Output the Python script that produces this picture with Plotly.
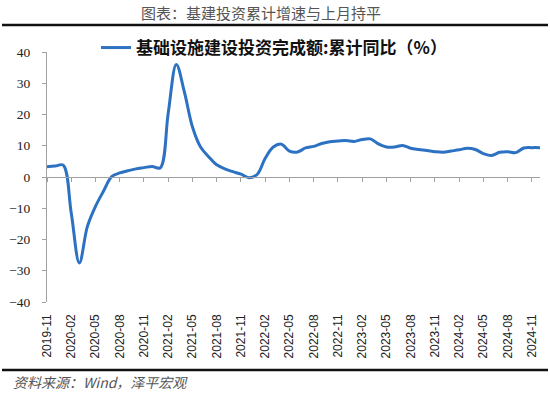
import plotly.graph_objects as go

# ---------------- data ----------------
months = ["2019-11", "2019-12"] + [f"{y}-{m:02d}" for y in range(2020, 2025) for m in range(1, 13)]
values = [
    3.3, 3.5,                                                         # 2019-11, 2019-12
    3.8, -11.5, -27.5, -15.8, -9.4, -4.5, 0.1, 1.3, 2.0, 2.6, 3.0, 3.4,   # 2020
    2.9, 20.5, 36.0, 27.2, 16.0, 9.6, 6.5, 3.9, 2.6, 1.7, 0.9, -0.2,     # 2021
    0.8, 6.0, 9.6, 10.5, 8.3, 8.0, 9.3, 9.8, 10.7, 11.3, 11.5, 11.7,     # 2022
    11.4, 12.0, 12.2, 10.6, 9.6, 9.6, 10.1, 9.2, 8.8, 8.5, 8.1, 7.9,     # 2023
    8.3, 8.7, 9.2, 8.8, 7.5, 6.9, 7.9, 8.1, 7.8, 9.3, 9.4, 9.4,          # 2024
]
tick_labels = months[::3]
series_name = "基础设施建设投资完成额:累计同比（%）"
title_text = "图表：基建投资累计增速与上月持平"
source_text = "资料来源：Wind，泽平宏观"
y_ticks = list(range(-40, 41, 10))

# ---------------- layout geometry ----------------
W, H = 550, 394
ML, MR, MT, MB = 47, 10, 52, 92


def px_x(X):
    return (X - ML) / (W - ML - MR)


def px_y(Y):
    return (H - MB - Y) / (H - MT - MB)


CJK = "Noto Sans CJK SC"
AXIS_GREY = "#A0A0A0"

fig = go.Figure()
fig.add_trace(go.Scatter(
    x=months, y=values, mode="lines", name=series_name,
    line=dict(color="#2D72C2", width=3, shape="spline", smoothing=1.0),
    hoverinfo="x+y",
))

fig.update_layout(
    width=W, height=H,
    margin=dict(l=ML, r=MR, t=MT, b=MB, autoexpand=False),
    paper_bgcolor="white", plot_bgcolor="white",
    showlegend=True,
    legend=dict(
        x=px_x(96), y=px_y(48), xanchor="left", yanchor="middle",
        orientation="h", bgcolor="rgba(0,0,0,0)",
        font=dict(family=CJK, size=17, color="#111", weight="bold"),
        itemwidth=30,
    ),
    xaxis=dict(
        type="category", range=[0, len(months) - 1],
        tickmode="array", tickvals=tick_labels, ticktext=tick_labels,
        tickangle=-90, ticks="", showline=False, showgrid=False, zeroline=False,
        tickfont=dict(family="Liberation Sans", size=12, color="#222"),
        ticklabelstandoff=9, automargin=False,
    ),
    xaxis2=dict(
        overlaying="x", anchor="free", position=0.5,
        range=[0, len(months) - 1], tick0=0, dtick=3,
        showticklabels=False, ticks="outside", ticklen=4, tickcolor=AXIS_GREY,
        showline=True, linecolor=AXIS_GREY, linewidth=1,
        showgrid=False, zeroline=False, automargin=False,
    ),
    yaxis=dict(
        range=[-40, 40], tickvals=y_ticks,
        ticks="outside", ticklen=4, tickcolor=AXIS_GREY,
        showline=True, linecolor=AXIS_GREY, linewidth=1,
        showgrid=False, zeroline=False,
        tickfont=dict(family="Liberation Serif", size=13.5, color="#222"),
        ticklabelstandoff=9, automargin=False,
    ),
)

# invisible helper trace so the zero-line axis (xaxis2) is drawn
fig.add_trace(go.Scatter(x=[0], y=[0], xaxis="x2", mode="markers",
                         marker=dict(opacity=0), showlegend=False, hoverinfo="skip"))

fig.add_annotation(
    text=title_text, xref="paper", yref="paper",
    x=px_x(261), y=px_y(12), xanchor="center", yanchor="middle",
    showarrow=False, font=dict(family=CJK, size=15, color="#555"),
)
fig.add_annotation(
    text=f"<i>{source_text}</i>", xref="paper", yref="paper",
    x=px_x(11), y=px_y(382), xanchor="left", yanchor="middle",
    showarrow=False, font=dict(family=CJK, size=14, color="#555"),
)

for Y, wdt in ((25, 2.5), (370, 2.5)):
    fig.add_shape(type="line", xref="paper", yref="paper",
                  x0=px_x(2), x1=px_x(548), y0=px_y(Y), y1=px_y(Y),
                  line=dict(color="#111", width=wdt))

fig.write_html("out.html", config={"displayModeBar": False},
               post_script="document.body.style.margin='0';")
